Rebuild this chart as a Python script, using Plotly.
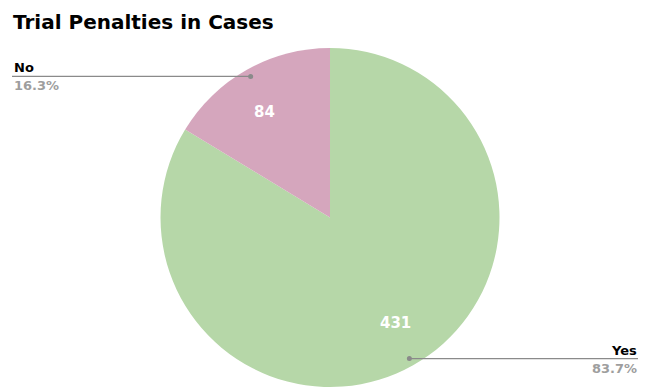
import numpy as np
import plotly.graph_objects as go

labels = ["Yes", "No"]
values = [431, 84]
colors = ["#b6d7a8", "#d5a6bd"]
title = "Trial Penalties in Cases"

OFF = 8  # page body margin offset
W, H = 646 - OFF, 387 - OFF
TOP = 48 - OFF
BOT = H
R = (BOT - TOP) / 2
cx_px = 330 - OFF
cy_px = TOP + R
dom_y = [1 - BOT / H, 1 - TOP / H]
half = R / W
dom_x = [cx_px / W - half, cx_px / W + half]

FONT = "DejaVu Sans"

fig = go.Figure(go.Pie(
    labels=labels, values=values, sort=False, direction="clockwise", rotation=0,
    marker=dict(colors=colors, line=dict(width=0)),
    textinfo="none", hoverinfo="label+value+percent",
    domain=dict(x=dom_x, y=dom_y), showlegend=False,
))

def px(x):
    return x / W

def py(y):
    return 1 - y / H

total = sum(values)
cum = 0
annotations = []
shapes = []
for lab, v in zip(labels, values):
    frac = v / total
    mid = (cum + frac / 2) * 2 * np.pi
    cum += frac
    s, c = np.sin(mid), np.cos(mid)
    ri = 0.79 * R
    annotations.append(dict(x=px(cx_px + ri * s), y=py(cy_px - ri * c), xref="paper", yref="paper",
                            text=f"<b>{v}</b>", showarrow=False,
                            font=dict(family=FONT, size=15, color="white")))
    rd = 0.955 * R
    dx, dy = cx_px + rd * s, cy_px - rd * c
    if s < 0:
        ex, tx, anchor = 12 - OFF, 12 - OFF, "left"
    else:
        ex, tx, anchor = W, W - 7, "right"
    shapes.append(dict(type="line", xref="paper", yref="paper", x0=px(dx), y0=py(dy), x1=px(ex), y1=py(dy),
                       line=dict(color="#8a8a8a", width=1.2)))
    shapes.append(dict(type="circle", xref="paper", yref="paper", x0=px(dx - 2.5), x1=px(dx + 2.5),
                       y0=py(dy - 2.5), y1=py(dy + 2.5), fillcolor="#8a8a8a", line=dict(width=0)))
    annotations.append(dict(x=px(tx), y=py(dy + 1), xref="paper", yref="paper", xanchor=anchor, yanchor="bottom",
                            text=f"<b>{lab}</b>", showarrow=False,
                            font=dict(family=FONT, size=13, color="#000000")))
    annotations.append(dict(x=px(tx), y=py(dy), xref="paper", yref="paper", xanchor=anchor, yanchor="top",
                            text=f"<b>{frac*100:.1f}%</b>", showarrow=False,
                            font=dict(family=FONT, size=13, color="#9e9e9e")))

fig.update_layout(
    width=W, height=H,
    margin=dict(l=0, r=0, t=0, b=0),
    paper_bgcolor="white", plot_bgcolor="white",
    title=dict(text=f"<b>{title}</b>", x=(13 - OFF) / W, xanchor="left", y=1 - (22 - OFF) / H, yanchor="middle",
               font=dict(family=FONT, size=20, color="#000000")),
    annotations=annotations, shapes=shapes,
)

fig.write_html("out.html")
